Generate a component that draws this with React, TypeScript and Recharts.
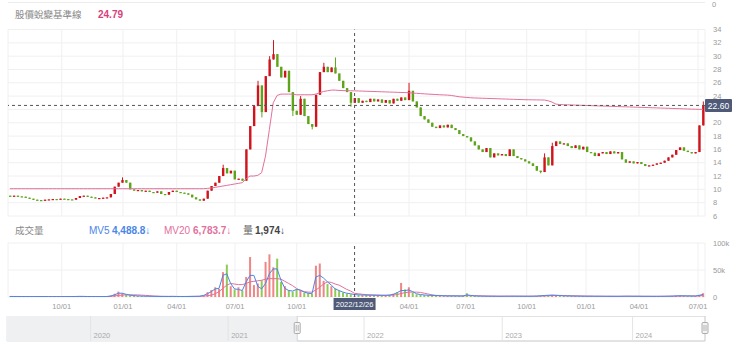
import React from 'react';
import {
  ComposedChart,
  Bar,
  Line,
  XAxis,
  YAxis,
  CartesianGrid,
  ReferenceLine,
  ReferenceArea,
  Cell,
} from 'recharts';

// ---------- data (each entry = 4 trading days) ----------
const firstOpen = 9.05;
const closes = [
  9.0, 9.05, 8.95, 8.9, 8.75, 8.6, 8.45, 8.4, 8.35, 8.45, 8.5, 8.55, 8.5, 8.6, 8.55, 8.5, 8.45, 8.7, 9.0, 9.05, 8.9, 8.8, 8.65, 8.7, 8.75, 8.8,
  9.3, 10.4, 11.0, 11.4, 11.0, 10.0, 9.8, 9.9, 9.7, 9.8, 9.6, 9.5, 9.7, 9.3, 9.2, 9.6, 9.8, 9.6, 9.5, 9.4, 9.2, 8.8, 8.5, 8.3,
  8.6, 9.8, 10.5, 11.0, 12.0, 13.2, 12.4, 12.8, 11.5, 11.6, 11.3,
  16.0, 19.5, 22.5, 25.6, 21.6, 27.0, 29.5, 30.3, 28.4, 26.8,
  27.8, 24.6, 21.8, 21.2, 23.6, 21.0, 19.8, 19.4, 24.2, 27.6,
  28.4, 27.6, 28.3, 27.4, 26.3, 25.2, 24.6, 23.0, 23.7, 23.0,
  23.3, 23.1, 23.6, 23.2, 23.5, 23.0, 23.4, 22.9, 23.6, 23.3,
  23.8, 23.4, 24.8, 23.2, 22.3, 21.0, 20.5, 20.0, 19.4, 19.2,
  19.6, 19.3, 19.7, 19.2, 18.9, 18.3, 18.0, 17.8, 17.2, 16.6,
  16.0, 15.6, 16.2, 14.8, 15.4, 15.1, 15.3, 15.0, 16.0, 15.0,
  14.7, 14.5, 14.2, 13.9, 13.5, 12.8, 12.6, 14.8, 13.6, 16.5,
  17.2, 16.8, 16.9, 16.5, 16.2, 16.6, 16.0, 16.4, 15.6, 15.5,
  15.0, 15.4, 15.6, 15.3, 15.7, 15.4, 15.6, 14.5, 14.0, 14.2,
  13.9, 14.1, 13.8, 13.5, 13.6, 13.7, 13.9, 14.0, 14.3, 14.8,
  15.2, 15.9, 16.3, 15.8, 15.6, 15.4, 15.6, 19.6, 22.6,
];
const wickHighs: Record<number, number> = {
  29: 11.8, 55: 13.7, 64: 26.3, 67: 30.0, 68: 32.4, 75: 24.0, 81: 29.0, 84: 29.8, 103: 26.0, 138: 15.4, 140: 17.0, 179: 23.2,
};
const wickLows: Record<number, number> = { 65: 20.8, 73: 21.0, 78: 19.0, 88: 22.4, 137: 12.4 };

const baseLine = [
  10.1, 10.1, 10.1, 10.1, 10.1, 10.1, 10.1, 10.1, 10.1, 10.1,
  10.1, 10.1, 10.1, 10.1, 10.1, 10.1, 10.1, 10.1, 10.1, 10.1,
  10.1, 10.1, 10.1, 10.1, 10.1, 10.1, 10.1, 10.1, 10.1, 10.1,
  10.1, 10.1, 10.1, 10.1, 10.1, 10.1, 10.1, 10.1, 10.1, 10.1,
  10.1, 10.1, 10.1, 10.1, 10.1, 10.1, 10.1, 10.1, 10.1, 10.1,
  10.1,
  10.15, 10.2, 10.3, 10.4, 10.5, 10.6, 10.7, 10.8, 10.9, 11.0,
  11.6, 12.0, 12.0, 12.1, 12.5, 15.0, 19.0, 23.0, 24.1, 24.3,
  24.3, 24.3, 24.3, 24.2, 24.2, 24.2, 24.2, 24.2, 24.3, 24.5,
  24.7, 24.8, 24.9, 24.9, 24.85, 24.83, 24.81, 24.8, 24.79, 24.77,
  24.75, 24.73, 24.71, 24.69, 24.67, 24.65, 24.63, 24.61, 24.59, 24.57,
  24.55, 24.53, 24.5, 24.46, 24.42, 24.38, 24.34, 24.3, 24.27, 24.24,
  24.2, 24.18, 24.15, 24.1, 24.0, 23.9, 23.85, 23.8, 23.75, 23.72,
  23.7, 23.68, 23.66, 23.64, 23.62, 23.6, 23.58, 23.56, 23.54, 23.52,
  23.5, 23.48, 23.46, 23.45, 23.44, 23.43, 23.42, 23.41, 23.3, 23.1,
  22.8, 22.73, 22.71, 22.69, 22.67, 22.65, 22.63, 22.61, 22.59, 22.57,
  22.55, 22.53, 22.51, 22.49, 22.47, 22.45, 22.43, 22.41, 22.39, 22.37,
  22.35, 22.33, 22.31, 22.29, 22.27, 22.25, 22.23, 22.21, 22.19, 22.17,
  22.15, 22.13, 22.11, 22.09, 22.07, 22.05, 22.03, 22.01, 22.0,
];

// volumes in thousands of shares
const volumes = [
  1.0, 0.8, 0.9, 0.7, 0.6, 0.8, 0.7, 0.6, 0.9, 0.8, 0.7, 0.6, 0.8, 0.7, 0.6, 0.7, 0.8, 1.2, 1.5, 1.0, 0.8, 0.7, 0.6, 0.7, 0.8, 0.9,
  2.5, 6, 10, 7, 4, 3, 2.5, 2, 1.8, 1.5, 1.2, 1.0, 1.2, 1.0, 0.9, 1.1, 1.2, 1.0, 0.9, 0.8, 1.0, 1.3, 1.2, 1.5,
  3, 9, 13, 18, 15, 46, 60, 20, 14, 18, 12,
  37, 74, 22, 25, 31, 65, 79, 55, 71, 28,
  20, 13, 10, 15, 12, 8, 7, 6, 58, 62,
  30, 24, 20, 16, 12, 8, 6, 5, 1.974, 4,
  3.5, 3.5, 3, 3.5, 3, 3, 3, 4, 6, 9,
  26, 14, 18, 8, 5, 4, 3.5, 3, 3, 2.5,
  2.5, 2, 2, 2, 2, 1.8, 1.8, 7, 2, 1.8,
  1.8, 1.6, 1.6, 1.5, 1.5, 1.4, 1.4, 1.5, 1.5, 1.6,
  1.5, 1.5, 1.4, 1.4, 1.5, 1.8, 2.5, 3, 3.5, 4,
  3, 2.5, 2, 2, 1.8, 1.8, 1.6, 1.6, 1.5, 1.5,
  1.4, 1.4, 1.4, 1.3, 1.3, 1.3, 1.3, 1.5, 1.6, 1.5,
  1.4, 1.4, 1.3, 1.3, 1.3, 1.2, 1.2, 1.3, 1.4, 1.6,
  1.8, 2.2, 2.5, 2.2, 2.0, 1.8, 1.8, 4, 7,
];
const mv5 = [
  1, 0.9, 0.9, 0.8, 0.7, 0.7, 0.7, 0.7, 0.8, 0.8, 0.7, 0.7, 0.7, 0.7, 0.7, 0.7, 0.8, 1.0, 1.2, 1.1, 0.9, 0.8, 0.7, 0.7, 0.8, 0.9,
  1.8, 4, 7, 7, 5, 3.5, 2.5, 2, 1.8, 1.5, 1.3, 1.1, 1.1, 1.0, 1.0, 1.0, 1.1, 1.0, 0.9, 0.9, 1.0, 1.2, 1.3, 1.5,
  3, 6, 10, 15, 16, 40, 43, 25, 15, 14, 12,
  28, 40, 40, 20, 15, 25, 43, 52, 52, 31,
  16, 12, 11, 14, 13, 9, 7, 6, 37, 40,
  35, 28, 22, 15, 12, 9, 7, 6, 4.4888, 4,
  3.8, 3.5, 3.3, 3.3, 3.1, 3, 3, 3.5, 5, 8,
  12, 12, 13, 10, 6, 4.5, 3.8, 3.2, 3, 2.7,
  2.5, 2.2, 2, 2, 2, 1.9, 1.8, 4, 3, 2,
  1.8, 1.7, 1.6, 1.5, 1.5, 1.4, 1.4, 1.5, 1.5, 1.6,
  1.5, 1.5, 1.4, 1.4, 1.5, 1.7, 2.2, 2.8, 3.2, 3.6,
  3.2, 2.7, 2.2, 2, 1.9, 1.8, 1.7, 1.6, 1.5, 1.5,
  1.4, 1.4, 1.4, 1.3, 1.3, 1.3, 1.3, 1.4, 1.5, 1.5,
  1.4, 1.4, 1.3, 1.3, 1.3, 1.2, 1.2, 1.3, 1.4, 1.5,
  1.7, 2, 2.3, 2.2, 2, 1.9, 1.8, 3, 5,
];
const mv20 = [
  1, 1, 1, 0.9, 0.9, 0.8, 0.8, 0.8, 0.8, 0.8, 0.8, 0.8, 0.8, 0.7, 0.7, 0.7, 0.7, 0.8, 0.9, 0.9, 0.9, 0.9, 0.9, 0.8, 0.8, 0.8,
  1.2, 2, 3, 3.5, 4, 4, 4, 3.8, 3.5, 3, 2.5, 2, 1.6, 1.3, 1.2, 1.1, 1.1, 1.0, 1.0, 1.0, 1.0, 1.0, 1.1, 1.2,
  1.8, 2.5, 3.5, 6, 10, 16, 22, 25, 24, 23, 23,
  25, 28, 29, 30, 31, 33, 34, 34, 34, 33,
  29, 25, 21, 16, 12, 10, 9, 9, 13, 18,
  24, 28, 27, 24, 22, 18, 14, 11, 6.7837, 6,
  5, 4.5, 4, 3.8, 3.6, 3.4, 3.3, 3.3, 3.6, 4.5,
  6.5, 8, 9, 9, 9, 8.5, 7, 5.5, 4, 3,
  2.8, 2.6, 2.4, 2.3, 2.2, 2.1, 2, 2.5, 2.6, 2.5,
  2.3, 2, 1.8, 1.7, 1.6, 1.5, 1.5, 1.5, 1.5, 1.5,
  1.5, 1.5, 1.5, 1.5, 1.5, 1.6, 1.8, 2.1, 2.4, 2.7,
  2.9, 2.9, 2.8, 2.6, 2.3, 2.1, 1.9, 1.7, 1.6, 1.6,
  1.5, 1.5, 1.4, 1.4, 1.4, 1.3, 1.3, 1.3, 1.4, 1.4,
  1.4, 1.4, 1.4, 1.3, 1.3, 1.3, 1.3, 1.3, 1.3, 1.4,
  1.5, 1.6, 1.8, 1.9, 2, 2, 1.9, 2.2, 2.8,
];

// x-axis date ticks (position in 4-day units) and labels
const tickPos = [13.37, 29.2, 43.07, 58.13, 74.06, 103.07, 117.7, 133.46, 148.78, 162.47, 177.7];
const tickLabels = ['10/01', '01/01', '04/01', '07/01', '10/01', '04/01', '07/01', '10/01', '01/01', '04/01', '07/01'];
const priceTicks = [6, 8, 10, 12, 14, 16, 18, 20, 22, 24, 26, 28, 30, 32, 34];
const volTicks = [0, 50, 100];
const crosshairIndex = 89;
const crosshairDate = '2022/12/26';

// navigator (trading days over the whole history)
const navTotalDays = 1253;
const navWindowStart = 521;
const navYearStarts = [150, 397, 641, 889, 1123];
const navYearLabels = ['2020', '2021', '2022', '2023', '2024'];

// ---------- derived table ----------
const N = closes.length;
const rows = closes.map((c, i) => {
  const o = i === 0 ? firstOpen : closes[i - 1];
  const hi = wickHighs[i] ?? Math.max(o, c);
  const lo = wickLows[i] ?? Math.min(o, c);
  return {
    i,
    o,
    c,
    hi,
    lo,
    range: [lo, hi > lo ? hi : hi + 0.01],
    up: c >= o,
    base: baseLine[i],
    vol: volumes[i],
    mv5: mv5[i],
    mv20: mv20[i],
  };
});
const navRows = [
  { d: 0, v: 0 },
  { d: navTotalDays, v: 0 },
];
const lastClose = closes[N - 1];
const cross = rows[crosshairIndex];

const RED = '#cf141c';
const GREEN = '#5ea41b';
const VRED = '#ef8585';
const VGREEN = '#8dcb55';
const BLUE = '#4a86e8';
const PINK = '#e2709c';
const TAG = '#4e5a78';
const FONT = "'Liberation Sans', Arial, 'Noto Sans CJK TC', sans-serif";
const GRID = '#f0f0f0';
const TICK = { fontSize: 7.5, fill: '#9a9a9a', fontFamily: FONT };

const fmt = (v: number, d: number) =>
  v.toLocaleString('en-US', { minimumFractionDigits: d, maximumFractionDigits: d });

// ---------- shapes ----------
const Candle = (props: any) => {
  const { x, y, width, height, index } = props;
  const d = props.payload && props.payload.o !== undefined ? props.payload : rows[index];
  if (x == null || !d) return null;
  const top = Math.min(y, y + height);
  const h = Math.abs(height);
  const span = d.range[1] - d.range[0];
  const py = (v: number) => top + ((d.range[1] - v) / span) * h;
  const color = d.up ? RED : GREEN;
  const cx = x + width / 2;
  const bTop = py(Math.max(d.o, d.c));
  const bBot = py(Math.min(d.o, d.c));
  return (
    <g>
      <line x1={cx} x2={cx} y1={top} y2={top + h} stroke={color} strokeWidth={1} />
      <rect x={x} y={bTop} width={width} height={Math.max(1.2, bBot - bTop)} fill={color} />
    </g>
  );
};

const PriceTag = (props: any) => {
  const vb = props.viewBox;
  if (!vb) return null;
  const x = Math.max(vb.x, vb.x + (vb.width || 0));
  const y = vb.y;
  return (
    <g>
      <rect x={x} y={y - 6.5} width={27} height={13} fill={TAG} rx={1} />
      <text x={x + 13.5} y={y + 0.5} fill="#fff" fontSize={8.5} fontFamily={FONT} textAnchor="middle" dominantBaseline="central">
        {props.text}
      </text>
    </g>
  );
};

const DateTag = (props: any) => {
  const vb = props.viewBox;
  if (!vb) return null;
  const bottom = Math.max(vb.y, vb.y + (vb.height || 0));
  return (
    <g>
      <rect x={vb.x - 21} y={bottom + 1} width={42} height={12} fill={TAG} />
      <text x={vb.x} y={bottom + 7.2} fill="#fff" fontSize={7.5} fontFamily={FONT} textAnchor="middle" dominantBaseline="central">
        {props.text}
      </text>
    </g>
  );
};

const YearLabel = (props: any) => {
  const vb = props.viewBox;
  if (!vb) return null;
  const bottom = Math.max(vb.y, vb.y + (vb.height || 0));
  return (
    <text x={vb.x + 3} y={bottom - 3} fill="#aaa" fontSize={7.5} fontFamily={FONT}>
      {props.text}
    </text>
  );
};

const Handle = (props: any) => {
  const vb = props.viewBox;
  if (!vb) return null;
  const top = Math.min(vb.y, vb.y + (vb.height || 0));
  const x = vb.x;
  return (
    <g>
      <rect x={x - 3} y={top + 6.5} width={6} height={11} fill="#f4f4f4" stroke="#9a9a9a" strokeWidth={0.8} rx={1} />
      <line x1={x - 1} x2={x - 1} y1={top + 9} y2={top + 15} stroke="#9a9a9a" strokeWidth={0.7} />
      <line x1={x + 1} x2={x + 1} y1={top + 9} y2={top + 15} stroke="#9a9a9a" strokeWidth={0.7} />
    </g>
  );
};

// ---------- app ----------
export default function App() {
  const label = (style: React.CSSProperties, text: string) => (
    <div style={{ position: 'absolute', whiteSpace: 'nowrap', fontFamily: FONT, lineHeight: '12px', ...style }}>{text}</div>
  );
  return (
    <div style={{ position: 'absolute', left: 0, top: 0, width: 740, height: 360, background: '#fff', overflow: 'hidden' }}>
      {/* bottom edge of the panel above */}
      <div style={{ position: 'absolute', left: 8, top: 2, width: 697, height: 1, background: '#ececec' }} />
      {label({ left: 712, top: 0, fontSize: 7.5, color: '#9a9a9a', lineHeight: '9px' }, '0')}

      {/* header: baseline readout */}
      {label({ left: 15, top: 9, fontSize: 9.5, color: '#888' }, '股價蛻變基準線')}
      {label({ left: 98, top: 9, fontSize: 10, color: '#d8407c', fontWeight: 700 }, fmt(cross.base, 2))}

      {/* price panel */}
      <div style={{ position: 'absolute', left: 0, top: 0 }}>
        <ComposedChart width={740} height={220} data={rows} margin={{ top: 29.5, right: 0, bottom: 4, left: 8 }}>
          <CartesianGrid stroke={GRID} />
          <XAxis dataKey="i" type="number" domain={[-0.5, N - 0.5]} ticks={tickPos} allowDataOverflow hide />
          <YAxis
            orientation="right"
            width={35}
            domain={[6, 34]}
            ticks={priceTicks}
            allowDataOverflow
            axisLine={false}
            tickLine={false}
            tick={TICK}
            tickFormatter={(v: number) => (Math.abs(v - lastClose) < 1 ? '' : String(v))}
            interval={0}
          />
          <Bar dataKey="range" barSize={2.4} shape={<Candle />} isAnimationActive={false} />
          <Line dataKey="base" type="linear" stroke={PINK} strokeWidth={1} dot={false} isAnimationActive={false} />
          <ReferenceLine x={crosshairIndex} stroke="#555" strokeDasharray="3 3" />
          <ReferenceLine y={lastClose} stroke="#555" strokeDasharray="3 3" label={<PriceTag text={lastClose.toFixed(2)} />} />
        </ComposedChart>
      </div>

      {/* volume header */}
      {label({ left: 15, top: 225, fontSize: 9.5, color: '#888' }, '成交量')}
      {label({ left: 89, top: 225, fontSize: 10, color: BLUE }, 'MV5')}
      {label({ left: 112, top: 225, fontSize: 10, color: BLUE, fontWeight: 700 }, fmt(cross.mv5 * 1000, 1) + '↓')}
      {label({ left: 164, top: 225, fontSize: 10, color: PINK }, 'MV20')}
      {label({ left: 193, top: 225, fontSize: 10, color: PINK, fontWeight: 700 }, fmt(cross.mv20 * 1000, 1) + '↓')}
      {label({ left: 243, top: 225, fontSize: 10, color: '#666' }, '量')}
      {label({ left: 255, top: 225, fontSize: 10, color: '#444', fontWeight: 700 }, fmt(cross.vol * 1000, 0) + '↓')}

      {/* volume panel */}
      <div style={{ position: 'absolute', left: 0, top: 230 }}>
        <ComposedChart width={740} height={90} data={rows} margin={{ top: 13, right: 0, bottom: 0, left: 8 }}>
          <CartesianGrid stroke={GRID} />
          <XAxis
            dataKey="i"
            type="number"
            domain={[-0.5, N - 0.5]}
            ticks={tickPos}
            allowDataOverflow
            height={23}
            interval={0}
            axisLine={false}
            tickLine={false}
            tick={TICK}
            tickMargin={1}
            tickFormatter={(v: number) => tickLabels[tickPos.indexOf(v)] ?? ''}
          />
          <YAxis
            orientation="right"
            width={35}
            domain={[0, 100]}
            ticks={volTicks}
            allowDataOverflow
            axisLine={false}
            tickLine={false}
            tick={TICK}
            interval={0}
            tickFormatter={(v: number) => (v === 0 ? '0' : v + 'k')}
          />
          <Bar dataKey="vol" barSize={2} isAnimationActive={false}>
            {rows.map((r) => (
              <Cell key={r.i} fill={r.up ? VRED : VGREEN} />
            ))}
          </Bar>
          <Line dataKey="mv20" type="linear" stroke={PINK} strokeWidth={1} dot={false} isAnimationActive={false} />
          <Line dataKey="mv5" type="linear" stroke={BLUE} strokeWidth={1} dot={false} isAnimationActive={false} />
          <ReferenceLine x={crosshairIndex} stroke="#555" strokeDasharray="3 3" label={<DateTag text={crosshairDate} />} />
        </ComposedChart>
      </div>

      {/* navigator */}
      <div style={{ position: 'absolute', left: 0, top: 316 }}>
        <ComposedChart width={740} height={26} data={navRows} margin={{ top: 0, right: 35, bottom: 1, left: 7 }}>
          <XAxis dataKey="d" type="number" domain={[0, navTotalDays]} allowDataOverflow hide />
          <YAxis domain={[0, 1]} allowDataOverflow hide />
          <ReferenceArea x1={0} x2={navTotalDays} y1={0} y2={1} fill="#fff" fillOpacity={0} stroke="#e2e2e2" strokeWidth={1} />
          <ReferenceArea x1={0} x2={navWindowStart} y1={0} y2={1} fill="#eef0f2" fillOpacity={1} stroke="none" />
          {navYearStarts.map((d, k) => (
            <ReferenceLine key={d} x={d} stroke="#e4e4e4" label={<YearLabel text={navYearLabels[k]} />} />
          ))}
          <ReferenceArea x1={navWindowStart} x2={navTotalDays} y1={0} y2={1} fillOpacity={0} stroke="#d4d4d4" strokeWidth={1} />
          <Line dataKey="v" stroke="none" dot={false} isAnimationActive={false} />
          <ReferenceLine x={navWindowStart} stroke="none" label={<Handle />} />
          <ReferenceLine x={navTotalDays} stroke="none" label={<Handle />} />
        </ComposedChart>
      </div>
    </div>
  );
}
